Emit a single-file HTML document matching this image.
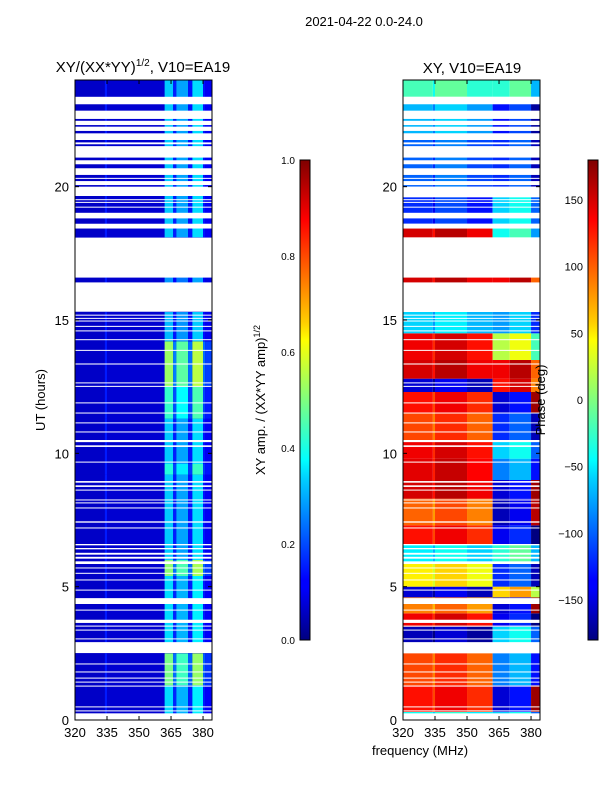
<!DOCTYPE html>
<html><head><meta charset="utf-8"><style>
body{margin:0;background:#fff;width:600px;height:800px;overflow:hidden;font-family:"Liberation Sans",sans-serif}
svg text{font-family:"Liberation Sans",sans-serif}
</style></head><body>
<svg id="fig" width="600" height="800" xmlns="http://www.w3.org/2000/svg">
<defs>
<linearGradient id="jet" x1="0" y1="1" x2="0" y2="0">
<stop offset="0" stop-color="#00007f"/><stop offset="0.11" stop-color="#0000ff"/><stop offset="0.125" stop-color="#0000ff"/>
<stop offset="0.34" stop-color="#00d4ff"/><stop offset="0.375" stop-color="#00ffff"/><stop offset="0.5" stop-color="#7fff7f"/>
<stop offset="0.625" stop-color="#ffff00"/><stop offset="0.66" stop-color="#ffd000"/><stop offset="0.875" stop-color="#ff0000"/><stop offset="1" stop-color="#7f0000"/>
</linearGradient>
</defs>
<text x="364" y="26" font-size="13" text-anchor="middle">2021-04-22 0.0-24.0</text>
<text x="143" y="72" font-size="15" text-anchor="middle">XY/(XX*YY)<tspan font-size="10" dy="-6">1/2</tspan><tspan dy="6">, V10=EA19</tspan></text>
<text x="472" y="73" font-size="15" text-anchor="middle">XY, V10=EA19</text>
<g id="leftPanel"></g>
<g id="rightPanel"></g>
<g id="axes"></g>
<rect x="300" y="160" width="10" height="480" fill="url(#jet)" stroke="#000" stroke-width="1"/>
<rect x="588" y="160" width="10" height="480" fill="url(#jet)" stroke="#000" stroke-width="1"/>
<text transform="translate(265,400) rotate(-90)" font-size="13" text-anchor="middle">XY amp. / (XX*YY amp)<tspan font-size="9" dy="-5">1/2</tspan></text>
<text transform="translate(545,400) rotate(-90)" font-size="13" text-anchor="middle">Phase (deg)</text>
<text transform="translate(45,400) rotate(-90)" font-size="13" text-anchor="middle">UT (hours)</text>
<text x="420" y="755" font-size="13" text-anchor="middle">frequency (MHz)</text>
</svg>
<script>
// ---- data ----
const hourTicks=[0,5,10,15,20];
const freqTicks=[320,335,350,365,380];
const ampTicks=[0.0,0.2,0.4,0.6,0.8,1.0];
const phaseTicks=[-150,-100,-50,0,50,100,150];
// flagged (white) time intervals in hours [start,end]
const gaps=[[0,0.25],[0.33,0.36],[0.48,0.51],[1.26,1.29],[1.41,1.44],[1.56,1.59],[1.79,1.82],[2.09,2.12],[2.51,2.92],[3.03,3.06],[3.36,3.39],[3.51,3.54],[3.64,3.76],[4.11,4.14],[4.35,4.57],[4.86,4.89],[5.24,5.27],[5.49,5.52],[5.69,5.72],[5.85,5.95],[6.05,6.12],[6.2,6.27],[6.4,6.45],[6.55,6.6],[7.19,7.22],[7.4,7.45],[7.94,7.97],[8.13,8.16],[8.24,8.27],[8.61,8.64],[8.74,8.8],[8.9,8.96],[9.66,9.69],[10.24,10.3],[10.42,10.5],[10.79,10.82],[11.13,11.16],[11.5,11.53],[11.88,11.91],[12.5,12.53],[12.63,12.66],[13.33,13.37],[13.85,13.88],[14.25,14.28],[14.58,14.61],[14.75,14.78],[14.95,14.98],[15.05,15.08],[15.17,15.2],[15.31,16.41],[16.59,18.09],[18.43,18.61],[18.81,19.02],[19.22,19.25],[19.4,19.43],[19.5,19.53],[19.65,20.0],[20.06,20.21],[20.3,20.33],[20.44,20.69],[20.84,20.99],[21.09,21.52],[21.59,21.66],[21.75,22.0],[22.09,22.25],[22.31,22.47],[22.54,22.85],[23.09,23.37]];
// amplitude column groups [fStart,fEnd,value]
const ampCols=[[320,334,0.07],[334,335,0.15],[335,362,0.08],[362,366,0.34],[366,367.5,0.16],[367.5,373,0.3],[373,375,0.15],[375,380,0.36],[380,381,0.15],[381,384.2,0.12]];
// amplitude time scale segments [hStart,hEnd,scale]
const ampRows=[[0,1.3,1.0],[1.3,2.5,1.45],[2.9,5.4,1.0],[5.4,6.0,1.5],[6.0,9.2,0.95],[9.2,9.6,1.2],[9.6,11.3,0.95],[11.3,12.5,1.25],[12.5,14.2,1.55],[14.2,15.3,0.9],[16.4,16.6,0.8],[18.1,24,0.95]];
// phase segments [hStart,hEnd,phaseBelow362,phaseAbove362]
const phaseRows=[[0,0.3,-40,-60],[0.3,1.3,130,-150],[1.3,2.5,110,-90],[2.9,3.5,-160,-60],[3.5,4.0,140,-140],[4.0,4.6,90,-150],[4.6,5.0,-150,60],[5.0,5.9,50,-120],[5.9,6.6,-50,-30],[6.6,7.3,130,-140],[7.3,8.3,100,-160],[8.3,9.0,150,-150],[9.0,9.8,145,-90],[9.8,10.5,140,-60],[10.5,11.5,110,-120],[11.5,12.3,130,-150],[12.3,12.8,-150,130],[12.8,13.5,150,140],[13.5,14.5,140,20],[14.5,15.3,-60,-80],[16.4,16.6,150,140],[18.1,18.43,150,-40],[18.61,19.6,-120,-60],[20.0,22.0,-100,-120],[22.0,23.1,-70,-130],[23.37,24,-20,-30]];
// phase column modulations [fStart,fEnd,offset]
const phaseCols=[[320,334,0],[334,335,-20],[335,350,10],[350,362,-10],[362,370,0],[370,380,20],[380,384.2,-40]];
// ---- scales ----
const L={x0:75,x1:212},R={x0:403,x1:540},Y0=720,Y1=80,FMIN=320,FMAX=384.2;
const yH=h=>Y0-(h/24)*(Y0-Y1);
const xF=(p,f)=>p.x0+(f-FMIN)/(FMAX-FMIN)*(p.x1-p.x0);
function jet(v){v=Math.max(0,Math.min(1,v));
 const c=x=>Math.round(255*Math.max(0,Math.min(1,x)));
 const r=c(Math.min(4*v-1.5,-4*v+4.5)),g=c(Math.min(4*v-0.5,-4*v+3.5)),b=c(Math.min(4*v+0.5,-4*v+2.5));
 return `rgb(${r},${g},${b})`;}
const NS="http://www.w3.org/2000/svg";
function rect(g,x,y,w,h,fill){const r=document.createElementNS(NS,'rect');
 r.setAttribute('x',x);r.setAttribute('y',y);r.setAttribute('width',w);r.setAttribute('height',h);r.setAttribute('fill',fill);g.appendChild(r);return r;}
const lp=document.getElementById('leftPanel'),rp=document.getElementById('rightPanel');
rect(lp,L.x0,Y1,L.x1-L.x0,Y0-Y1,jet(0.07));
ampRows.forEach(([a,b,s])=>{ampCols.forEach(([f0,f1,v])=>{
 const r=rect(lp,xF(L,f0),yH(b),xF(L,f1)-xF(L,f0),yH(a)-yH(b),jet(f0>=362?v*s:v));
 
 });});
rect(rp,R.x0,Y1,R.x1-R.x0,Y0-Y1,'#fff');
phaseRows.forEach(([a,b,pl,ph])=>{phaseCols.forEach(([f0,f1,o])=>{
 let p=(f0>=362?ph:pl)+o; if(p>180)p-=360; if(p<-180)p+=360;
 const r=rect(rp,xF(R,f0),yH(b),xF(R,f1)-xF(R,f0),yH(a)-yH(b),jet((p+180)/360));
 
 });});
[[lp,L],[rp,R]].forEach(([g,p])=>{gaps.forEach(([a,b])=>{
 const r=rect(g,p.x0,yH(b),p.x1-p.x0,Math.max(1,yH(a)-yH(b)),'#fff');
 
 });});
const ax=document.getElementById('axes');
function line(x1,y1,x2,y2){const l=document.createElementNS(NS,'line');l.setAttribute('x1',x1);l.setAttribute('y1',y1);l.setAttribute('x2',x2);l.setAttribute('y2',y2);l.setAttribute('stroke','#000');ax.appendChild(l);}
function text(x,y,s,anchor,size){const t=document.createElementNS(NS,'text');t.setAttribute('x',x);t.setAttribute('y',y);t.setAttribute('font-size',size);t.setAttribute('text-anchor',anchor);t.textContent=s;ax.appendChild(t);return t;}
[L,R].forEach(p=>{
 const f=rect(ax,p.x0,Y1,p.x1-p.x0,Y0-Y1,'none');f.setAttribute('stroke','#000');
 
 
 hourTicks.forEach(h=>{const y=yH(h);line(p.x0,y,p.x0+4,y);line(p.x1,y,p.x1-4,y);
  const t=text(p.x0-6,y+5,String(h),'end',13);
  
  });
 freqTicks.forEach(fq=>{const x=xF(p,fq);line(x,Y0,x,Y0-4);line(x,Y1,x,Y1+4);
  const t=text(x,Y0+17,String(fq),'middle',13);
  
  });
});
ampTicks.forEach(v=>{const y=640-v*480;line(300,y,310,y);
 const t=text(295,y+4,v.toFixed(1),'end',10);
 
 });
phaseTicks.forEach(v=>{const y=400-v*480/360;line(588,y,598,y);
 const t=text(583,y+4,String(v).replace('-','\u2212'),'end',11);
 
 });
</script>
</body></html>
